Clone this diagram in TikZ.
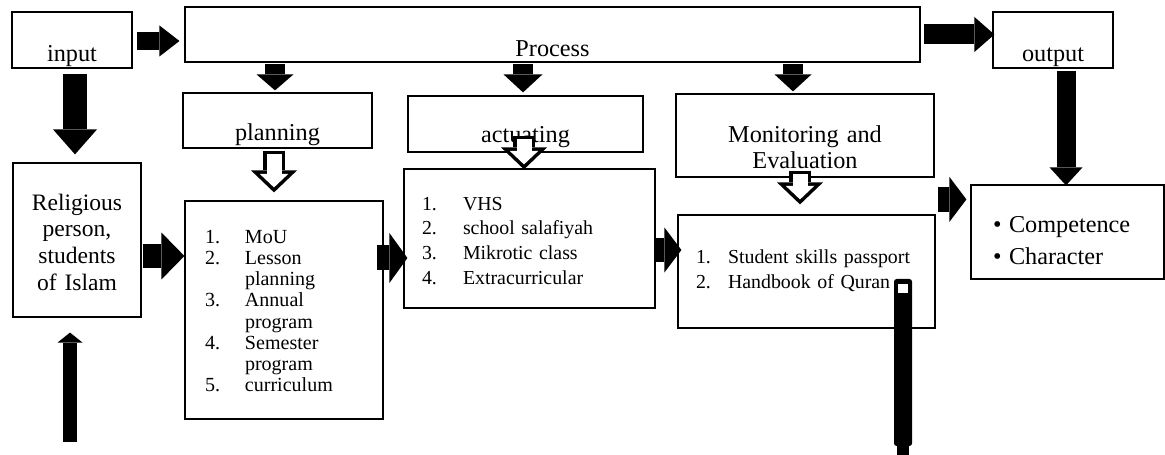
\documentclass[tikz,border=0pt]{standalone}
\usepackage{fontspec}
\setmainfont{Liberation Serif}
\usetikzlibrary{arrows.meta,calc}
\newcommand{\numcol}[2]{\makebox[#1][l]{#2}}
\begin{document}
\begin{tikzpicture}[
  x=0.02cm, y=-0.02cm,
  head/.style={
    draw, line width=0.7pt, rectangle, inner sep=0pt,
    font=\fontsize{13.8}{14.7}\selectfont
  },
  listbox/.style={
    draw, line width=0.7pt, rectangle, inner ysep=0pt, align=left
  },
  blockarr/.style n args={3}{
    draw=black, line width=#1,
    -{Triangle[width=#2, length=#3, line width=0pt]}
  },
  hollowarr/.style={
    draw=white, line width=0.30cm,
    -{Triangle[width=0.57cm, length=0.27cm, line width=0pt]},
    shorten <=0.07cm, shorten >=0.1cm,
    preaction={draw=black, line width=0.44cm,
      -{Triangle[width=0.92cm, length=0.44cm, line width=0pt]},
      shorten <=0pt, shorten >=0pt}
  },
]
\useasboundingbox (0,0) rectangle (1165,455);

\node[head, minimum width=2.4cm, text height=1.0cm, text depth=0.12cm] (input) at (72,40) {input};
\node[head, minimum width=14.7cm, text height=1.0cm, text depth=0.1cm] (process) at (552.5,34.5) {Process};
\node[head, minimum width=2.4cm, text height=1.0cm, text depth=0.12cm] (output) at (1053,40) {output};

\node[head, minimum width=3.78cm, text height=0.96cm, text depth=0.14cm] (plan) at (277.5,120.5) {planning};
\node[head, minimum width=4.7cm, text height=0.94cm, text depth=0.18cm] (act) at (525.5,124) {actuating};
\node[head, text width=5.16cm, align=center, text height=0.98cm, text depth=0.68cm] (mon) at (805,135.5) {Monitoring and\\Evaluation};

\node[head, text width=2.56cm, align=center, text height=0.94cm, text depth=2.14cm,
  font=\fontsize{13.4}{15.2}\selectfont] (relig) at (77,240) {Religious\\person,\\students\\of Islam};

\node[listbox, inner xsep=0.4cm, text width=3.16cm, text height=0.84cm, text depth=3.52cm,
  font=\fontsize{11.4}{12.1}\selectfont] (planlist) at (284,310)
  {\numcol{0.8cm}{1.}MoU\\
   \numcol{0.8cm}{2.}Lesson\\
   \numcol{0.8cm}{}planning\\
   \numcol{0.8cm}{3.}Annual\\
   \numcol{0.8cm}{}program\\
   \numcol{0.8cm}{4.}Semester\\
   \numcol{0.8cm}{}program\\
   \numcol{0.8cm}{5.}curriculum};
\node[listbox, inner xsep=0.36cm, text width=4.3cm, text height=0.82cm, text depth=1.96cm,
  font=\fontsize{11.3}{14.1}\selectfont] (actlist) at (529.5,238.5)
  {\numcol{0.82cm}{1.}VHS\\
   \numcol{0.82cm}{2.}school salafiyah\\
   \numcol{0.82cm}{3.}Mikrotic class\\
   \numcol{0.82cm}{4.}Extracurricular};
\node[listbox, inner xsep=0.36cm, text width=4.42cm, text height=0.98cm, text depth=1.28cm,
  font=\fontsize{11.3}{13.7}\selectfont] (monlist) at (806.5,271.5)
  {\numcol{0.64cm}{1.}Student skills passport\\
   \numcol{0.64cm}{2.}Handbook of Quran};
\node[listbox, inner xsep=0.44cm, text width=2.98cm, text height=0.96cm, text depth=0.92cm,
  font=\fontsize{13.8}{18.2}\selectfont] (outlist) at (1067.5,232)
  {\numcol{0.32cm}{\textbullet}Competence\\
   \numcol{0.32cm}{\textbullet}Character};

\draw[blockarr={0.36cm}{0.62cm}{0.4cm}] ($(input.east)+(4,1)$) -- ($(input.east -| process.west)+(-5,1)$);
\draw[blockarr={0.4cm}{0.7cm}{0.4cm}] ($(process.east)+(3,0)$) -- ($(process.east -| output.west)+(2,0)$);
\draw[blockarr={0.4cm}{0.74cm}{0.32cm}] ($(plan.north |- process.south)+(-2.5,1)$) -- ($(plan.north)+(-2.5,-2)$);
\draw[blockarr={0.4cm}{0.78cm}{0.36cm}] ($(act.north |- process.south)+(-2.5,1)$) -- ($(act.north)+(-2.5,-3)$);
\draw[blockarr={0.4cm}{0.74cm}{0.34cm}] ($(mon.north |- process.south)+(-12,1)$) -- ($(mon.north)+(-12,-2)$);
\draw[blockarr={0.48cm}{0.88cm}{0.5cm}] ($(input.south)+(3,5)$) -- ($(input.south |- relig.north)+(3,-8)$);
\draw[blockarr={0.38cm}{0.66cm}{0.36cm}] ($(outlist.north |- output.south)+(-1.5,2)$) -- ($(outlist.north)+(-1.5,1)$);
\draw[blockarr={0.48cm}{0.94cm}{0.46cm}] ($(relig.east)+(1,16)$) -- ($(relig.east -| planlist.west)+(0,16)$);
\draw[blockarr={0.5cm}{1.0cm}{0.36cm}] ($(planlist.east)+(-7,-52)$) -- ($(planlist.east -| actlist.west)+(4,-52)$);
\draw[blockarr={0.48cm}{0.9cm}{0.34cm}] ($(actlist.east)+(0,11.5)$) -- ($(actlist.east -| monlist.west)+(4,11.5)$);
\draw[blockarr={0.5cm}{0.9cm}{0.34cm}] ($(monlist.north east)+(2,-15)$) -- ($(monlist.north east -| outlist.west)+(-4,-15)$);

\coordinate (src) at (70,442);
\draw[blockarr={0.3cm}{0.5cm}{0.2cm}] (src) -- ($(src |- relig.south)+(0,15)$);

\draw[hollowarr] ($(plan.south)+(-3.5,2)$) -- ($(plan.south |- planlist.north)+(-3.5,-8)$);
\draw[hollowarr] ($(act.south)+(-1.5,-17)$) -- ($(act.south |- actlist.north)+(-1.5,1)$);
\draw[hollowarr] ($(mon.south)+(-5,-7)$) -- ($(mon.south |- monlist.north)+(-5,-10)$);

\fill[rounded corners=1.5pt] (894,279) rectangle (912,446);
\fill (897,444) rectangle (909,455);
\fill[white] (898,284) rectangle (908,293);
\end{tikzpicture}
\end{document}
